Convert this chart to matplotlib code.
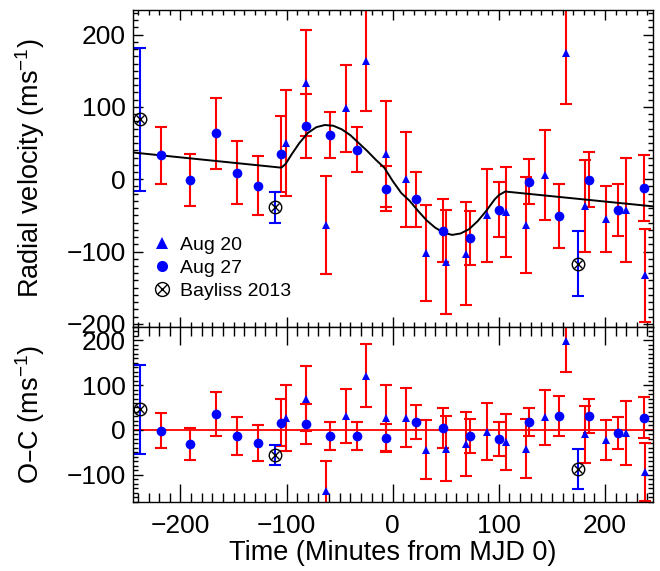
import matplotlib
matplotlib.use("Agg")
import matplotlib.pyplot as plt
from matplotlib.lines import Line2D
from matplotlib.ticker import MultipleLocator

plt.rcParams['font.family'] = ['Liberation Sans', 'DejaVu Sans']
plt.rcParams['mathtext.default'] = 'regular'

# Aug 20 (triangles): time, RV, error, O-C
aug20_t = [-100.5, -81.6, -62.7, -43.8, -24.9, -6.6, 12.3, 31.2, 50.0, 69.3,
           88.6, 106.8, 125.4, 143.7, 163.5, 181.5, 201.0, 220.0, 238.0]
aug20_rv = [50.5, 133, -63, 98, 164, 35, 0, -102, -115, -103,
            -50, -45, -63, 5.5, 174, -37, -55, -43, -133]
aug20_err = [73, 73, 68, 60, 70, 73, 66, 66, 72, 71,
             64, 62, 66, 62, 70, 63, 45, 72, 64]
aug20_oc = [27, 70, -137, 31, 121, 27, 27, -44, -42, -32,
            -4, -27, -42, 28, 198, -10, -22, -7, -94]

# Aug 27 (circles)
aug27_t = [-218, -191, -166.6, -147, -127, -105, -81.6, -59.5, -33.7, -6.6,
           21.7, 47, 72.8, 100.2, 128.8, 156.9, 184.6, 212, 237]
aug27_rv = [33, -0.5, 63.5, 9.3, -8.8, 35, 73.6, 61.5, 41, -13,
            -28, -71, -81.5, -42, -3.7, -51, -0.5, -43, -12]
aug27_err = [39, 36, 49, 43, 41, 52, 44, 31.5, 31, 31,
             38, 44, 37.5, 38, 31, 44.5, 38, 36, 46]
aug27_oc = [-1.5, -31, 36, -14, -29, 16, 13, -13, -13, -18.5,
            17, 4, -13, -20, 18, 30, 30, -7, 27]

# Bayliss 2013
bay_t = [-238, -111, 175]
bay_rv = [83, -39, -117]
bay_err = [99, 22, 45]
bay_oc = [46, -56, -87]

# model curve
model_t = [-245, -105, -101, -95, -88, -80, -72, -64, -56, -48, -40, -32, -24, -16, -8,
           0, 8, 16, 24, 32, 40, 48, 56, 64, 72, 80, 88, 96, 100, 106, 245]
model_rv = [37, 16, 21, 35, 50, 64, 72, 75, 74, 69, 61, 50, 39, 27, 16,
            -2.5, -19, -30, -44, -57, -67, -74, -77, -75, -69, -58, -44, -28, -22, -17, -37.5]

red = '#ff0000'
blue = '#0000ff'

fig = plt.figure(figsize=(6.6, 5.71), dpi=100)
ax1 = fig.add_axes([0.2011, 0.4278, 0.7879, 0.5546])
ax2 = fig.add_axes([0.2011, 0.1214, 0.7879, 0.3064])

for ax, y20, y27, yb in [(ax1, aug20_rv, aug27_rv, bay_rv), (ax2, aug20_oc, aug27_oc, bay_oc)]:
    ax.errorbar(aug20_t, y20, yerr=aug20_err, fmt='none', ecolor=red, elinewidth=1.5,
                capsize=4, capthick=1.5, zorder=2)
    ax.errorbar(aug27_t, y27, yerr=aug27_err, fmt='none', ecolor=red, elinewidth=1.5,
                capsize=4, capthick=1.5, zorder=2)
    ax.errorbar(bay_t, yb, yerr=bay_err, fmt='none', ecolor=blue, elinewidth=1.5,
                capsize=4, capthick=1.5, zorder=2)
    ax.plot(aug20_t, y20, '^', color=blue, ms=6, mew=0, zorder=4)
    ax.plot(aug27_t, y27, 'o', color=blue, ms=7, mew=0, zorder=4)
    ax.plot(bay_t, yb, 'o', mfc='none', mec='black', ms=9, mew=1.0, zorder=5)
    ax.plot(bay_t, yb, 'x', color='black', ms=6, mew=1.0, zorder=5)

ax1.plot(model_t, model_rv, color='black', lw=1.4, zorder=3)
ax2.axhline(0, color=red, lw=1.3, zorder=1)

ax1.set_xlim(-245, 245)
ax2.set_xlim(-245, 245)
ax1.set_ylim(-204, 234)
ax2.set_ylim(-160, 230)

for ax in (ax1, ax2):
    ax.xaxis.set_major_locator(MultipleLocator(100))
    ax.xaxis.set_minor_locator(MultipleLocator(10))
    ax.yaxis.set_major_locator(MultipleLocator(100))
    ax.yaxis.set_minor_locator(MultipleLocator(10))
    ax.tick_params(which='both', direction='in', top=True, right=True, labelsize=19, width=1)
    ax.tick_params(axis='y', pad=5)
    for s in ax.spines.values():
        s.set_linewidth(1.0)

ax1.tick_params(axis='x', which='major', length=7)
ax1.tick_params(axis='x', which='minor', length=3.6)
ax2.tick_params(axis='x', which='major', length=13, pad=9)
ax2.tick_params(axis='x', which='minor', length=6.5)
for ax in (ax1, ax2):
    ax.tick_params(axis='y', which='major', length=7)
    ax.tick_params(axis='y', which='minor', length=3.6)
ax1.tick_params(axis='x', labelbottom=False)
ax2.set_yticks([-100, 0, 100, 200])

ax1.set_ylabel('Radial velocity (ms$^{-1}$)', fontsize=19.5)
ax2.set_ylabel('O\u2013C (ms$^{-1}$)', fontsize=19.5)
ax1.yaxis.set_label_coords(-0.165, 0.5)
ax2.yaxis.set_label_coords(-0.165, 0.5)
ax2.set_xlabel('Time (Minutes from MJD 0)', fontsize=19.5, labelpad=1)

h20 = Line2D([], [], marker='^', color=blue, ls='none', ms=8, mew=0)
h27 = Line2D([], [], marker='o', color=blue, ls='none', ms=8, mew=0)
hb1 = Line2D([], [], marker='o', mfc='none', mec='black', ls='none', ms=10, mew=1.0)
hb2 = Line2D([], [], marker='x', color='black', ls='none', ms=6.5, mew=1.0)
ax1.legend([h20, h27, (hb1, hb2)], ['Aug 20', 'Aug 27', 'Bayliss 2013'],
           loc='lower left', bbox_to_anchor=(0.04, 0.085), frameon=False, fontsize=14,
           handlelength=0.9, handletextpad=0.45, labelspacing=0.27,
           borderpad=0, borderaxespad=0)

fig.savefig('out.png', dpi=100)
